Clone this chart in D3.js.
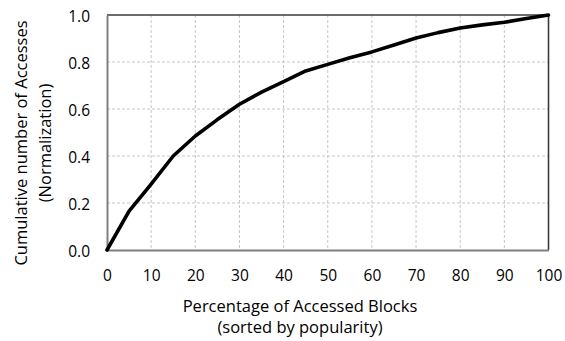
<!DOCTYPE html>
<html>
<head>
<meta charset="utf-8">
<script src="https://cdn.jsdelivr.net/npm/d3@7"></script>
<style>
  html, body { margin: 0; padding: 0; background: #fff; }
  svg { display: block; }
  text { font-family: "Open Sans", Lato, sans-serif; fill: #000; }
</style>
</head>
<body>
<svg id="chart" width="565" height="341"></svg>
<script>
// Cumulative share of accesses vs. share of blocks (sorted by popularity)
const blockPct = [0, 5, 10, 15, 20, 25, 30, 35, 40, 45, 50, 55, 60, 65, 70, 75, 80, 85, 90, 95, 100];
const cumAccess = [0, 0.165, 0.28, 0.40, 0.485, 0.555, 0.62, 0.672, 0.716, 0.762, 0.79, 0.818, 0.843, 0.872, 0.902, 0.925, 0.945, 0.958, 0.969, 0.985, 1.0];

const xTicks = [0, 10, 20, 30, 40, 50, 60, 70, 80, 90, 100];
const yTicks = [0, 0.2, 0.4, 0.6, 0.8, 1.0];

const xTitle = ["Percentage of Accessed Blocks", "(sorted by popularity)"];
const yTitle = ["Cumulative number of Accesses", "(Normalization)"];

const svg = d3.select("#chart");
const plotL = 107, plotR = 548.5, plotT = 15, plotB = 250;
const tickFont = "15.5px", titleFont = "16.5px";

const x = d3.scaleLinear().domain([0, 100]).range([plotL, plotR]);
const y = d3.scaleLinear().domain([0, 1]).range([plotB, plotT]);

// dashed grid
const grid = svg.append("g");
grid.selectAll("line.gx").data(xTicks.slice(1, -1)).enter().append("line")
  .attr("x1", d => x(d)).attr("x2", d => x(d))
  .attr("y1", plotT).attr("y2", plotB)
  .attr("stroke", "#c6c6c6").attr("stroke-width", 1).attr("stroke-dasharray", "3,2");
grid.selectAll("line.gy").data(yTicks.slice(1, -1)).enter().append("line")
  .attr("x1", plotL).attr("x2", plotR)
  .attr("y1", d => y(d)).attr("y2", d => y(d))
  .attr("stroke", "#c6c6c6").attr("stroke-width", 1).attr("stroke-dasharray", "3,2");

// top and right frame
svg.append("line").attr("x1", plotL).attr("x2", plotR).attr("y1", plotT).attr("y2", plotT)
  .attr("stroke", "#3a3a3a").attr("stroke-width", 1.6);
svg.append("line").attr("x1", plotR).attr("x2", plotR).attr("y1", plotT).attr("y2", plotB)
  .attr("stroke", "#3a3a3a").attr("stroke-width", 1.6);

// axes
const xAxis = d3.axisBottom(x).tickValues(xTicks).tickSize(0).tickPadding(20)
  .tickFormat(d3.format("d"));
const gx = svg.append("g").attr("transform", `translate(0,${plotB})`).call(xAxis);
gx.select(".domain").attr("stroke", "#7f7f7f").attr("stroke-width", 2);
gx.selectAll("text").style("font-size", tickFont).style("font-family", "'Open Sans', sans-serif").attr("fill", "#000");

const yAxis = d3.axisLeft(y).tickValues(yTicks).tickSize(0).tickPadding(17)
  .tickFormat(d3.format(".1f"));
const gy = svg.append("g").attr("transform", `translate(${plotL},0)`).call(yAxis);
gy.select(".domain").attr("stroke", "#7f7f7f").attr("stroke-width", 2);
gy.selectAll("text").style("font-size", tickFont).style("font-family", "'Open Sans', sans-serif")
  .attr("fill", "#000").attr("dy", "0.4em");

// curve
const line = d3.line().x((d, i) => x(blockPct[i])).y(d => y(d));
svg.append("path").datum(cumAccess)
  .attr("d", line)
  .attr("fill", "none").attr("stroke", "#000").attr("stroke-width", 3.6)
  .attr("stroke-linejoin", "round").attr("stroke-linecap", "round");

// axis titles
svg.append("g").selectAll("text").data(xTitle).enter().append("text")
  .attr("x", 300).attr("y", (d, i) => 311.5 + i * 21)
  .attr("text-anchor", "middle").style("font-size", titleFont).text(d => d);

svg.append("g").attr("transform", "translate(0,143) rotate(-90)")
  .selectAll("text").data(yTitle).enter().append("text")
  .attr("x", 0).attr("y", (d, i) => 26.5 + i * 24)
  .attr("text-anchor", "middle").style("font-size", titleFont).text(d => d);
</script>
</body>
</html>
